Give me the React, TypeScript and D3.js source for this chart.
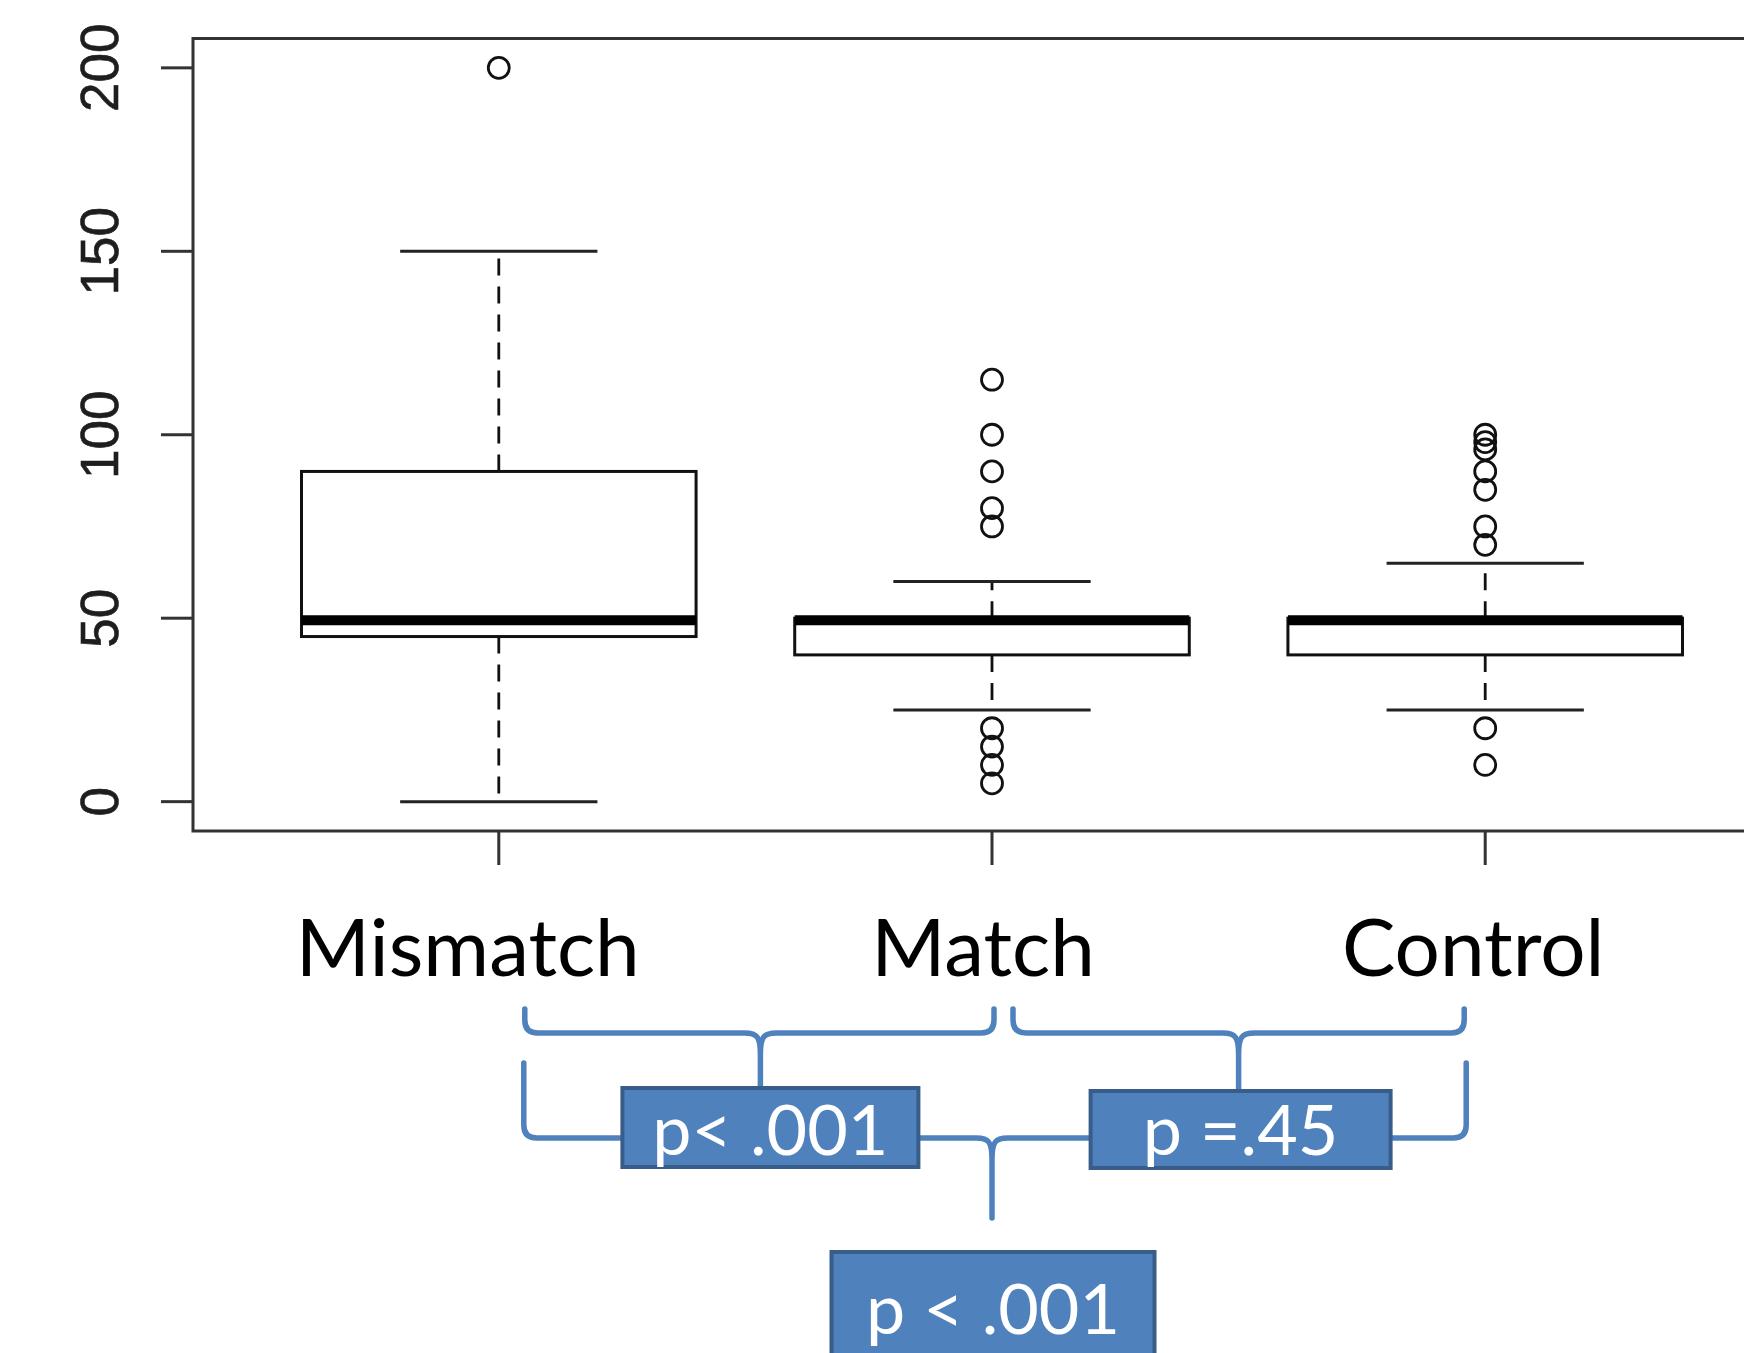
import React, { useEffect, useRef } from 'react';
import * as d3 from 'd3';

// five-number summaries
const categories = ['Mismatch', 'Match', 'Control'];
const lowerWhisker = [0, 25, 25];
const q1 = [45, 40, 40];
const medians = [50, 50, 50];
const q3 = [90, 50, 50];
const upperWhisker = [150, 60, 65];
const outliers = [
    [200],
    [115, 100, 90, 80, 75, 20, 15, 10, 5],
    [100, 98, 96, 90, 85, 75, 70, 20, 10],
];
const yTicks = [0, 50, 100, 150, 200];

// pairwise comparisons (category indices) and their p-values
const comparisonPairs = [[0, 1], [1, 2], [0, 2]];
const comparisonLabels = ['p< .001', 'p =.45', 'p < .001'];

const W = 1744;
const H = 1353;

const App: React.FC = () => {
    const svgRef = useRef<SVGSVGElement>(null);

    useEffect(() => {
        document.body.style.margin = '0';
        document.body.style.overflow = 'hidden';
    }, []);

    useEffect(() => {
        if (!svgRef.current) return;
        const svg = d3.select(svgRef.current);
        svg.selectAll('*').remove();

        const x = d3.scaleLinear().domain([0.38, 3.62]).range([193, 1791]);
        const y = d3.scaleLinear().domain([-8, 208]).range([831, 38.5]);
        const unit = x(2) - x(1);
        const boxW = unit * 0.8;
        const capW = boxW / 2;

        const g = svg.append('g');

        // plot frame (right side runs off the picture)
        g.append('rect')
            .attr('x', x(0.38))
            .attr('y', y(208))
            .attr('width', x(3.62) - x(0.38))
            .attr('height', y(-8) - y(208))
            .attr('fill', 'none')
            .attr('stroke', '#333')
            .attr('stroke-width', 3);

        // y axis ticks + rotated labels
        yTicks.forEach(t => {
            g.append('line')
                .attr('x1', x(0.38) - 32).attr('x2', x(0.38))
                .attr('y1', y(t)).attr('y2', y(t))
                .attr('stroke', '#333').attr('stroke-width', 3);
            g.append('text')
                .attr('transform', `translate(118,${y(t)}) rotate(-90)`)
                .attr('text-anchor', 'middle')
                .attr('fill', '#1e1e1e')
                .attr('stroke', '#1e1e1e')
                .attr('stroke-width', 0.6)
                .style('font-family', '"Liberation Sans", Arial, sans-serif')
                .style('font-size', '53px')
                .text(t);
        });

        // x ticks
        categories.forEach((_, i) => {
            g.append('line')
                .attr('x1', x(i + 1)).attr('x2', x(i + 1))
                .attr('y1', y(-8)).attr('y2', y(-8) + 34)
                .attr('stroke', '#333').attr('stroke-width', 3);
        });

        // boxes
        categories.forEach((_, i) => {
            const cx = x(i + 1);
            const whisk = (a: number, b: number) => g.append('line')
                .attr('x1', cx).attr('x2', cx)
                .attr('y1', y(a)).attr('y2', y(b))
                .attr('stroke', '#111').attr('stroke-width', 2.8)
                .attr('stroke-dasharray', '17 11');
            whisk(q3[i], upperWhisker[i]);
            whisk(q1[i], lowerWhisker[i]);

            [lowerWhisker[i], upperWhisker[i]].forEach(v => {
                g.append('line')
                    .attr('x1', cx - capW / 2).attr('x2', cx + capW / 2)
                    .attr('y1', y(v)).attr('y2', y(v))
                    .attr('stroke', '#222').attr('stroke-width', 3);
            });

            g.append('rect')
                .attr('x', cx - boxW / 2)
                .attr('y', y(q3[i]))
                .attr('width', boxW)
                .attr('height', y(q1[i]) - y(q3[i]))
                .attr('fill', '#fff')
                .attr('stroke', '#111')
                .attr('stroke-width', 3);

            g.append('line')
                .attr('x1', cx - boxW / 2).attr('x2', cx + boxW / 2)
                .attr('y1', y(medians[i]) + 2).attr('y2', y(medians[i]) + 2)
                .attr('stroke', '#000').attr('stroke-width', 10);

            g.selectAll(null)
                .data(outliers[i])
                .join('circle')
                .attr('cx', cx)
                .attr('cy', d => y(d))
                .attr('r', 10.5)
                .attr('fill', 'none')
                .attr('stroke', '#111')
                .attr('stroke-width', 2.8);
        });

        // category labels (placed by hand in the original slide)
        const labelOffsets = [-31, -9, -12];
        categories.forEach((c, i) => {
            g.append('text')
                .attr('x', x(i + 1) + labelOffsets[i])
                .attr('y', 976)
                .attr('text-anchor', 'middle')
                .attr('fill', '#000')
                .style('font-family', 'Lato, "Open Sans", sans-serif')
                .style('font-size', '80px')
                .text(c);
        });

        // braces
        const blue = '#4F81BD';
        const bracePath = (xL: number, xR: number, yTop: number, yMid: number, xTip: number, yTip: number) => {
            const r = 13;
            const t = 16;
            return `M${xL},${yTop} L${xL},${yMid - r} Q${xL},${yMid} ${xL + r},${yMid} L${xTip - t},${yMid} C${xTip - 3},${yMid} ${xTip},${yMid + 4} ${xTip},${yMid + t + 6} L${xTip},${yTip}`
                + ` M${xR},${yTop} L${xR},${yMid - r} Q${xR},${yMid} ${xR - r},${yMid} L${xTip + t},${yMid} C${xTip + 3},${yMid} ${xTip},${yMid + 4} ${xTip},${yMid + t + 6}`;
        };

        const braceLayout = [
            { l: 26, r: 2, yTop: 1009, yMid: 1033, tipShift: 15, yTip: 1090, box: [1088, 1167], boxW: 296, boxShift: 25, base: 1155 },
            { l: 21, r: -21, yTop: 1009, yMid: 1033, tipShift: 0, yTip: 1092, box: [1091, 1168], boxW: 300, boxShift: 2, base: 1155 },
            { l: 25, r: -19, yTop: 1063, yMid: 1138, tipShift: 0, yTip: 1218, box: [1252, 1370], boxW: 323, boxShift: 1, base: 1334 },
        ];

        comparisonPairs.forEach(([a, b], k) => {
            const L = braceLayout[k];
            const xL = x(a + 1) + L.l;
            const xR = x(b + 1) + L.r;
            const mid = (x(a + 1) + x(b + 1)) / 2;
            g.append('path')
                .attr('d', bracePath(xL, xR, L.yTop, L.yMid, mid + L.tipShift, L.yTip))
                .attr('fill', 'none')
                .attr('stroke', blue)
                .attr('stroke-width', 5.5)
                .attr('stroke-linecap', 'round')
                .attr('stroke-linejoin', 'round');
        });

        comparisonPairs.forEach(([a, b], k) => {
            const L = braceLayout[k];
            const mid = (x(a + 1) + x(b + 1)) / 2 + L.boxShift;
            g.append('rect')
                .attr('x', mid - L.boxW / 2)
                .attr('y', L.box[0])
                .attr('width', L.boxW)
                .attr('height', L.box[1] - L.box[0])
                .attr('fill', blue)
                .attr('stroke', '#385D8A')
                .attr('stroke-width', 4);
            g.append('text')
                .attr('x', mid)
                .attr('y', L.base)
                .attr('text-anchor', 'middle')
                .attr('fill', '#fff')
                .style('font-family', 'Lato, "Open Sans", sans-serif')
                .style('font-size', '70px')
                .text(comparisonLabels[k]);
        });
    }, []);

    return (
        <svg ref={svgRef} width={W} height={H} style={{ display: 'block', background: '#fff' }} />
    );
};

export default App;
